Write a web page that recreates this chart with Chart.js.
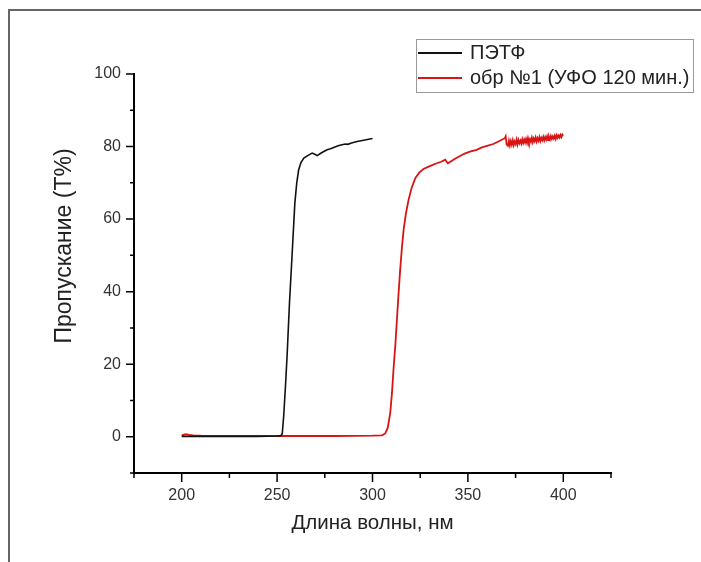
<!DOCTYPE html>
<html>
<head>
<meta charset="utf-8">
<script src="https://cdn.jsdelivr.net/npm/chart.js@4"></script>
<style>
  body { margin: 0; background: #fff; }
  canvas { display: block; }
</style>
</head>
<body>
<canvas id="chart" width="701" height="562"></canvas>
<script>
// spectra
const petLabel = 'ПЭТФ';
const petX = [200, 205, 210, 220, 230, 240, 250, 252, 252.7, 253.5, 254.5, 255.3, 256.5, 257.9, 259.3, 260.3, 261.3, 262.5, 264, 266, 268.4, 270, 271, 272.5, 274, 276.2, 278, 280, 282, 284, 285.8, 287, 289, 291.9, 294, 296, 298, 300];
const petY = [0.1, 0.1, 0.1, 0.1, 0.1, 0.1, 0.2, 0.3, 0.8, 6, 15, 23, 37, 50.6, 64.4, 70, 73.6, 75.6, 76.8, 77.5, 78.2, 77.8, 77.5, 78, 78.5, 79.1, 79.4, 79.8, 80.2, 80.5, 80.7, 80.6, 81.0, 81.4, 81.6, 81.8, 82.0, 82.2];

const sampleLabel = 'обр №1 (УФО 120 мин.)';
const sampleX = [200, 202, 204, 206, 210, 220, 240, 260, 280, 300, 305, 306.7, 308, 309.3, 310.2, 311, 312, 312.8, 313.6, 314.5, 315.4, 316.3, 317.5, 318.9, 320.5, 322.4, 324.5, 326.7, 330, 333.7, 336, 338.1, 338.6, 339.5, 341, 343.5, 345.9, 348, 351, 354.6, 357, 360, 363.3, 366, 369.4, 369.8, 370.3,
  371, 371.5, 372, 372.5, 373, 373.5, 374, 374.5, 375, 375.5, 376, 376.5, 377, 377.5, 378, 378.5, 379, 379.5, 380, 380.5,
  381, 381.5, 382, 382.5, 383, 383.5, 384, 384.5, 385, 385.5, 386, 386.5, 387, 387.5, 388, 388.5, 389, 389.5, 390, 390.5,
  391, 391.5, 392, 392.5, 393, 393.5, 394, 394.5, 395, 395.5, 396, 396.5, 397, 397.5, 398, 398.5, 399, 399.5, 400];
const sampleY = [0.4, 0.7, 0.5, 0.4, 0.3, 0.2, 0.2, 0.2, 0.2, 0.3, 0.4, 0.9, 2.5, 6.6, 12, 18.5, 25.5, 32.3, 39, 46, 52, 57, 61.5, 65.3, 68.6, 71.3, 72.8, 73.8, 74.6, 75.4, 75.8, 76.4, 76.0, 75.4, 75.9, 76.7, 77.4, 78.0, 78.6, 79.1, 79.7, 80.2, 80.7, 81.4, 82.3, 82.8, 80.6,
  80.2, 81.6, 80.3, 81.5, 80.5, 81.7, 80.4, 81.4, 80.7, 81.9, 80.6, 81.8, 80.9, 81.6, 80.8, 82.0, 81.0, 81.9, 81.1, 82.1,
  81.0, 82.3, 81.2, 82.0, 81.3, 82.4, 81.2, 82.2, 81.5, 82.5, 81.4, 82.3, 81.6, 82.6, 81.5, 82.4, 81.8, 82.7, 81.7, 82.6,
  81.9, 82.8, 81.8, 82.7, 82.0, 82.9, 82.1, 82.8, 82.2, 83.0, 82.1, 83.1, 82.4, 83.0, 82.5, 83.2, 82.6, 83.3, 83.0];

const xTitle = 'Длина волны, нм';
const yTitle = 'Пропускание (T%)';

const FONT = "'Liberation Sans', Arial, sans-serif";

function toPoints(xs, ys) {
  return xs.map((x, i) => ({ x: x, y: ys[i] }));
}

// frame, tick marks, axis titles and the boxed legend
const decorPlugin = {
  id: 'decorPlugin',
  afterDraw(chart) {
    const ctx = chart.ctx;
    const xs = chart.scales.x;
    const ys = chart.scales.y;
    ctx.save();

    ctx.strokeStyle = '#666';
    ctx.lineWidth = 2;
    ctx.beginPath();
    ctx.moveTo(9, 562);
    ctx.lineTo(9, 10);
    ctx.lineTo(701, 10);
    ctx.stroke();

    ctx.strokeStyle = '#000';
    ctx.lineWidth = 1.5;
    ctx.beginPath();
    xs.ticks.forEach(t => {
      const px = xs.getPixelForValue(t.value);
      const len = t.value % 50 === 0 ? 9 : 5;
      ctx.moveTo(px, ys.bottom);
      ctx.lineTo(px, ys.bottom + len);
    });
    ys.ticks.forEach(t => {
      const py = ys.getPixelForValue(t.value);
      const len = t.value % 20 === 0 ? 8 : 4;
      ctx.moveTo(xs.left, py);
      ctx.lineTo(xs.left - len, py);
    });
    ctx.stroke();

    ctx.fillStyle = '#222';
    ctx.font = '20.5px ' + FONT;
    ctx.textAlign = 'center';
    ctx.textBaseline = 'middle';
    ctx.fillText(xTitle, (xs.left + xs.right) / 2, 523);
    ctx.save();
    ctx.translate(65, 246);
    ctx.rotate(-Math.PI / 2);
    ctx.font = '23px ' + FONT;
    ctx.fillText(yTitle, 0, 0);
    ctx.restore();

    // legend
    const lx = 416, ly = 39, lw = 277, lh = 53;
    ctx.strokeStyle = '#999';
    ctx.lineWidth = 1;
    ctx.strokeRect(lx + 0.5, ly + 0.5, lw, lh);
    ctx.font = '20px ' + FONT;
    ctx.textAlign = 'left';
    chart.data.datasets.forEach((ds, i) => {
      const cy = ly + 14 + i * 25;
      ctx.strokeStyle = ds.borderColor;
      ctx.lineWidth = 2;
      ctx.beginPath();
      ctx.moveTo(lx + 2, cy);
      ctx.lineTo(lx + 46, cy);
      ctx.stroke();
      ctx.fillStyle = '#222';
      ctx.fillText(ds.label, lx + 54, cy);
    });

    ctx.restore();
  }
};

const ctx = document.getElementById('chart').getContext('2d');

new Chart(ctx, {
  type: 'line',
  data: {
    datasets: [
      {
        label: petLabel,
        data: toPoints(petX, petY),
        borderColor: '#111',
        borderWidth: 1.6,
        pointRadius: 0,
        tension: 0
      },
      {
        label: sampleLabel,
        data: toPoints(sampleX, sampleY),
        borderColor: '#d81414',
        borderWidth: 1.8,
        pointRadius: 0,
        tension: 0
      }
    ]
  },
  plugins: [decorPlugin],
  options: {
    responsive: false,
    animation: false,
    layout: {
      padding: { left: 0, top: 74, right: 90, bottom: 0 }
    },
    plugins: {
      legend: { display: false },
      tooltip: { enabled: false }
    },
    scales: {
      x: {
        type: 'linear',
        min: 175,
        max: 425,
        afterFit(scale) { scale.height = 89; },
        ticks: {
          stepSize: 25,
          autoSkip: false,
          maxRotation: 0,
          padding: 13,
          color: '#333',
          font: { family: FONT, size: 16 },
          callback: v => (v % 50 === 0 ? v : '')
        },
        grid: { drawOnChartArea: false, drawTicks: false },
        border: { color: '#000', width: 2 }
      },
      y: {
        min: -10,
        max: 100,
        afterFit(scale) { scale.width = 134; },
        ticks: {
          stepSize: 10,
          autoSkip: false,
          padding: 13,
          color: '#333',
          font: { family: FONT, size: 16 },
          callback: v => (v >= 0 && v % 20 === 0 ? v : '')
        },
        grid: { drawOnChartArea: false, drawTicks: false },
        border: { color: '#000', width: 2 }
      }
    }
  }
});
</script>
</body>
</html>
